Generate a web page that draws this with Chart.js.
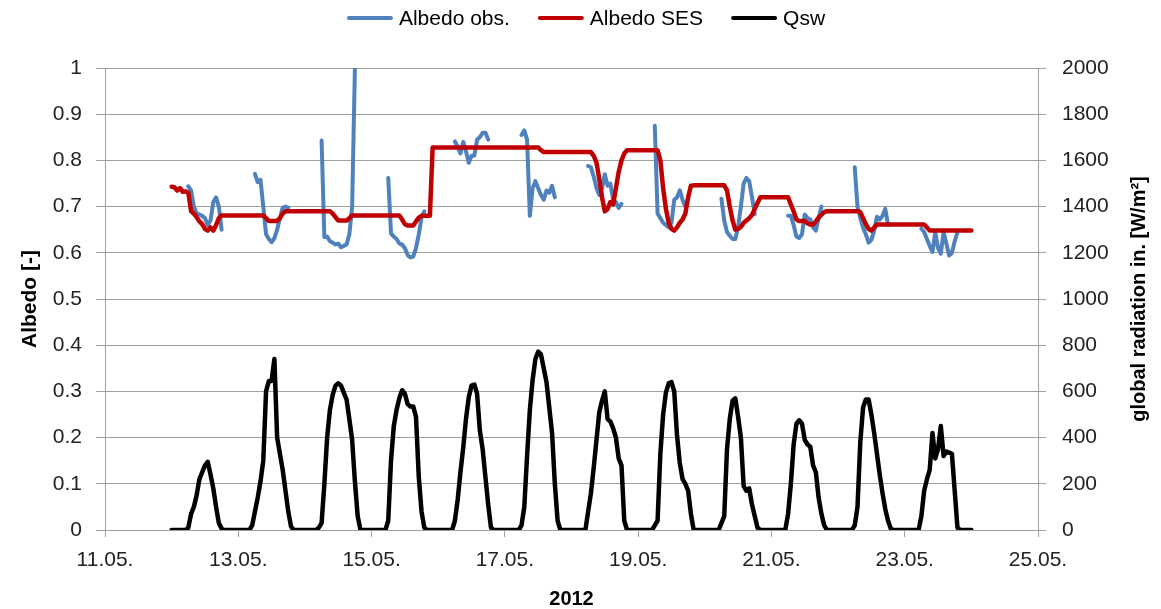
<!DOCTYPE html>
<html>
<head>
<meta charset="utf-8">
<script src="https://cdn.jsdelivr.net/npm/chart.js@4"></script>
<style>
html, body { margin: 0; padding: 0; background: #fff; }
</style>
</head>
<body>
<canvas id="albedoChart" width="1161" height="609"></canvas>
<script>
var _ = null;

// hourly samples from 12.05.2012 00:00 to 24.05.2012 00:00 (x in day-of-May)
var startDay = 12;

var albedoObs = [
  _,_,_,_,_,_,.744,.735,.70,.685,.683,.68,.675,.66,.67,.71,.72,.70,.65,_,_,_,_,_,
  _,_,_,_,_,_,.771,.753,.758,.70,.64,.63,.623,.632,.65,.675,.698,.70,.698,_,_,_,_,_,
  _,_,_,_,_,_,.843,.634,.635,.625,.622,.618,.62,.612,.615,.618,.64,.70,1.0,_,_,_,_,_,
  _,_,_,_,_,_,.762,.642,.635,.63,.62,.618,.61,.595,.59,.592,.61,.64,.677,.69,_,_,_,_,
  _,_,_,_,_,_,.841,.83,.815,.84,.82,.795,.81,.81,.845,.85,.86,.86,.845,_,_,_,_,_,
  _,_,_,_,_,_,.855,.865,.845,.68,.74,.755,.74,.725,.715,.735,.73,.745,.72,_,_,_,_,_,
  _,_,_,_,_,_,.788,.785,.765,.74,.725,.74,.77,.745,.75,.715,.71,.697,.706,_,_,_,_,_,
  _,_,_,_,_,_,.875,.685,.675,.665,.66,.655,.665,.715,.72,.735,.715,.70,_,_,_,_,_,_,
  _,_,_,_,_,_,.717,.67,.645,.637,.63,.63,.656,.70,.75,.762,.755,.72,.684,_,_,_,_,_,
  _,_,_,_,_,_,.68,.68,.66,.635,.632,.64,.683,.675,.672,.655,.648,.675,.70,_,_,_,_,_,
  _,_,_,_,_,_,.785,.70,.675,.655,.64,.622,.628,.648,.678,.672,.68,.695,.66,_,_,_,_,_,
  _,_,_,_,_,_,.652,.645,.63,.615,.602,.645,.61,.598,.645,.62,.594,.60,.625,.645,_,_,_,_,
  _
];

var albedoSES = [
  .743,.742,.735,.74,.732,.733,.73,.69,.685,.677,.668,.662,.652,.648,.655,.648,.66,.675,.681,.681,.681,.681,.681,.681,
  .681,.681,.681,.681,.681,.681,.681,.681,.681,.681,.675,.669,.669,.669,.669,.675,.685,.69,.69,.69,.69,.69,.69,.69,
  .69,.69,.69,.69,.69,.69,.69,.69,.69,.69,.685,.677,.67,.67,.67,.67,.675,.681,.681,.681,.681,.681,.681,.681,
  .681,.681,.681,.681,.681,.681,.681,.681,.681,.681,.681,.672,.662,.659,.659,.659,.668,.676,.68,.68,.68,.68,.828,.828,
  .828,.828,.828,.828,.828,.828,.828,.828,.828,.828,.828,.828,.828,.828,.828,.828,.828,.828,.828,.828,.828,.828,.828,.828,
  .828,.828,.828,.828,.828,.828,.828,.828,.828,.828,.828,.828,.828,.822,.818,.818,.818,.818,.818,.818,.818,.818,.818,.818,
  .818,.818,.818,.818,.818,.818,.818,.818,.81,.795,.76,.72,.69,.695,.71,.705,.74,.775,.80,.815,.822,.822,.822,.822,
  .822,.822,.822,.822,.822,.822,.822,.822,.80,.74,.695,.665,.652,.648,.655,.665,.672,.685,.72,.745,.746,.746,.746,.746,
  .746,.746,.746,.746,.746,.746,.746,.746,.735,.70,.67,.65,.652,.656,.665,.67,.675,.682,.695,.708,.72,.72,.72,.72,
  .72,.72,.72,.72,.72,.72,.72,.705,.69,.672,.669,.669,.669,.664,.661,.661,.668,.676,.682,.688,.69,.69,.69,.69,
  .69,.69,.69,.69,.69,.69,.69,.69,.688,.675,.662,.652,.648,.655,.661,.661,.661,.661,.661,.661,.661,.661,.661,.661,
  .661,.661,.661,.661,.661,.661,.661,.661,.655,.648,.648,.648,.648,.648,.648,.648,.648,.648,.648,.648,.648,.648,.648,.648,
  .648
];

var qsw = [
  0,0,0,0,0,0,10,70,100,150,220,250,280,295,240,180,100,30,5,0,0,0,0,0,
  0,0,0,0,0,20,80,140,210,300,600,645,645,740,400,330,260,170,80,15,0,0,0,0,
  0,0,0,0,0,10,30,200,400,520,585,625,635,625,595,565,480,390,210,60,0,0,0,0,
  0,0,0,0,0,0,40,300,450,520,570,605,590,545,535,535,490,230,80,10,0,0,0,0,
  0,0,0,0,0,0,40,130,250,355,480,575,625,630,590,430,350,230,110,10,0,0,0,0,
  0,0,0,0,0,0,20,100,320,520,650,740,772,760,700,640,530,420,200,40,0,0,0,0,
  0,0,0,0,0,0,80,160,270,390,510,560,600,480,470,440,400,310,280,40,0,0,0,0,
  0,0,0,0,0,0,20,40,330,500,595,635,640,600,410,290,220,200,170,70,0,0,0,0,
  0,0,0,0,0,0,30,60,350,480,560,570,490,400,190,170,180,110,60,10,0,0,0,0,
  0,0,0,0,0,0,70,200,370,460,475,460,390,370,360,280,250,140,70,20,0,0,0,0,
  0,0,0,0,0,0,20,100,380,530,565,565,500,420,330,240,160,90,40,5,0,0,0,0,
  0,0,0,0,0,0,60,170,220,260,420,310,350,450,320,340,335,330,170,10,0,0,0,0,
  0
];

var seriesNames = ['Albedo obs.', 'Albedo SES', 'Qsw'];
var month = '05';

var times = qsw.map(function(v, i) { return startDay + i / 24; });

var FONT = '"Liberation Sans", Arial, sans-serif';
var gridColor = '#a0a0a0';

var extraLabels = {
    id: 'extraLabels',
    afterDraw: function(chart) {
        var c = chart.ctx;
        var sets = chart.data.datasets;
        c.save();
        // legend on top
        c.font = '21px ' + FONT;
        var lineW = 46, gap = 6, space = 28;
        var widths = sets.map(function(s) { return lineW + gap + c.measureText(s.label).width; });
        var total = widths.reduce(function(a, b) { return a + b; }, 0) + space * (sets.length - 1);
        var x = 586 - total / 2, y = 18;
        sets.forEach(function(s, i) {
            c.strokeStyle = s.borderColor;
            c.lineWidth = 4;
            c.lineCap = 'round';
            c.beginPath();
            c.moveTo(x + 2, y);
            c.lineTo(x + lineW - 2, y);
            c.stroke();
            c.fillStyle = '#000';
            c.textBaseline = 'middle';
            c.textAlign = 'left';
            c.fillText(s.label, x + lineW + gap, y + 1);
            x += widths[i] + space;
        });
        // right axis title, reading bottom to top
        c.font = 'bold 20px ' + FONT;
        c.translate(1139, (chart.chartArea.top + chart.chartArea.bottom) / 2);
        c.rotate(-Math.PI / 2);
        c.textAlign = 'center';
        c.textBaseline = 'middle';
        c.fillStyle = '#000';
        c.fillText('global radiation in. [W/m\u00b2]', 0, 0);
        c.restore();
    }
};

var ctx = document.getElementById('albedoChart').getContext('2d');

var chart = new Chart(ctx, {
    type: 'line',
    plugins: [extraLabels],
    data: {
        labels: times,
        datasets: [{
            label: seriesNames[0],
            data: albedoObs,
            borderColor: '#4F81BD',
            borderWidth: 4,
            yAxisID: 'y',
            order: 1
        }, {
            label: seriesNames[1],
            data: albedoSES,
            borderColor: '#C00000',
            borderWidth: 4.5,
            yAxisID: 'y',
            order: 0
        }, {
            label: seriesNames[2],
            data: qsw,
            borderColor: '#000000',
            borderWidth: 4.5,
            yAxisID: 'y2',
            order: 0
        }]
    },
    options: {
        responsive: false,
        animation: false,
        spanGaps: false,
        layout: { padding: { top: 68, left: 0, right: 0, bottom: 0 } },
        elements: {
            point: { radius: 0 },
            line: { tension: 0, borderJoinStyle: 'round', borderCapStyle: 'round', fill: false }
        },
        plugins: {
            legend: { display: false },
            tooltip: { enabled: false }
        },
        scales: {
            x: {
                type: 'linear',
                min: 11,
                max: 25,
                afterFit: function(s) { s.height = 79; },
                afterBuildTicks: function(s) {
                    s.ticks = [11, 13, 15, 17, 19, 21, 23, 25].map(function(v) { return { value: v }; });
                },
                ticks: {
                    font: { family: FONT, size: 21 },
                    color: '#222',
                    padding: 11,
                    maxRotation: 0,
                    callback: function(v) { return v + '.' + month + '.'; }
                },
                grid: { drawOnChartArea: false, drawTicks: true, tickLength: 7, color: gridColor },
                border: { display: true, color: gridColor },
                title: {
                    display: true,
                    text: '2012',
                    color: '#000',
                    font: { family: FONT, size: 20, weight: 'bold', lineHeight: 1 },
                    padding: { top: 0, bottom: 0 }
                }
            },
            y: {
                position: 'left',
                min: 0,
                max: 1,
                afterFit: function(s) { s.width = 105; },
                ticks: {
                    stepSize: 0.1,
                    font: { family: FONT, size: 21 },
                    color: '#222',
                    padding: 14,
                    callback: function(v) { return String(Math.round(v * 10) / 10); }
                },
                grid: { color: gridColor, tickLength: 9 },
                border: { display: true, color: gridColor },
                title: {
                    display: true,
                    text: 'Albedo [-]',
                    color: '#000',
                    font: { family: FONT, size: 21, weight: 'bold', lineHeight: 1.2 },
                    padding: { top: 18, bottom: 0 }
                }
            },
            y2: {
                position: 'right',
                min: 0,
                max: 2000,
                afterFit: function(s) { s.width = 123; },
                ticks: {
                    stepSize: 200,
                    font: { family: FONT, size: 21 },
                    color: '#222',
                    padding: 16,
                    callback: function(v) { return String(v); }
                },
                grid: { drawOnChartArea: false, drawTicks: true, tickLength: 8, color: gridColor },
                border: { display: true, color: gridColor }
            }
        }
    }
});
</script>
</body>
</html>
